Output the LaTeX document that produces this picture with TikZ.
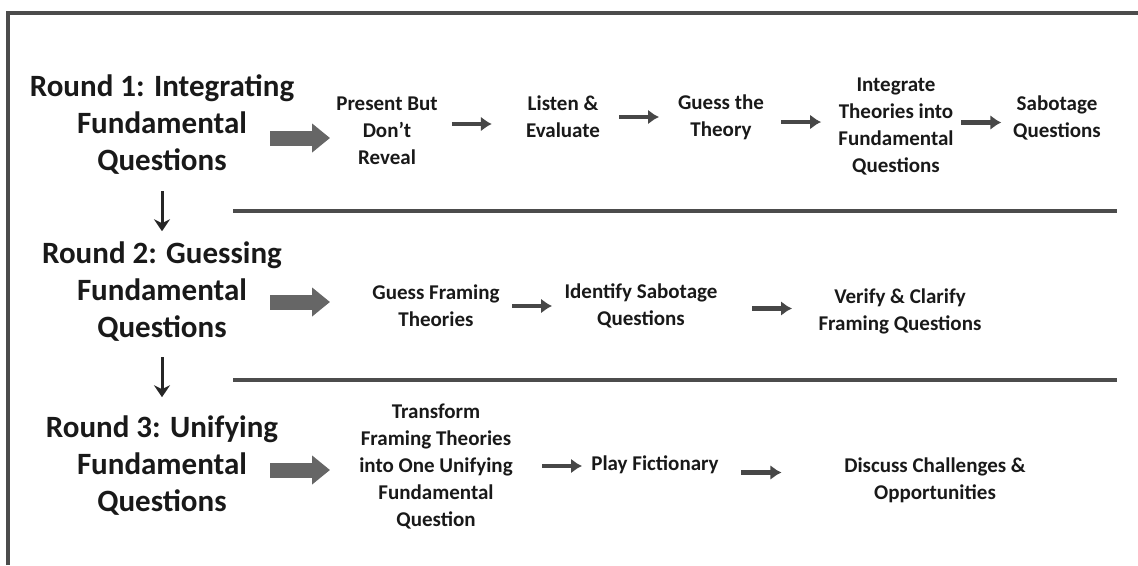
\documentclass[tikz,border=0pt]{standalone}
\usepackage{fontspec}
\setmainfont{Carlito}
\usetikzlibrary{arrows.meta,calc}

\begin{document}
\begin{tikzpicture}[x=1pt,y=-1pt,thick]
    %
    % `round' is used for the three round titles on the left.
    % `task' is used for the small steps of each round.
    % `flow' and `bigflow' are the arrows, `rule' the grey bars.
    \tikzstyle{round} = [align=center,inner sep=0pt,text=black!90,font=\bfseries\fontsize{31}{37}\selectfont]
    \tikzstyle{task} = [align=center,inner sep=2pt,text=black!90,font=\bfseries\fontsize{21}{27}\selectfont]
    \tikzstyle{flow} = [line width=4.5pt,draw=black!72,-{Latex[length=11pt,width=15pt]}]
    \tikzstyle{bigflow} = [line width=15pt,draw=black!60,-{Triangle[length=18pt,width=28pt]}]
    \tikzstyle{downflow} = [line width=3pt,draw=black!85,-{Stealth[length=12pt,width=16pt,inset=4pt]}]
    \tikzstyle{rule} = [line width=4pt,draw=black!70]
    \useasboundingbox (0,0) rectangle (1138,565);
    %
    % Frame
    \draw[rule,line width=3.5pt] (8,565) -- (8,13) -- (1138,13);
    %
    % Round titles
    \node[round] (r1) at (162,125) {Round 1: Integrating\\Fundamental\\Questions};
    \node[round] (r2) at (162,292) {Round 2: Guessing\\Fundamental\\Questions};
    \node[round] (r3) at (162,466) {Round 3: Unifying\\Fundamental\\Questions};
    \draw[downflow] ([yshift=-16]r1.south) -- ++(0,40);
    \draw[downflow] ([yshift=-15]r2.south) -- ++(0,40);
    %
    % Bars between the rounds
    \draw[rule] (233,211) -- (1117,211);
    \draw[rule] (233,380) -- (1117,380);
    %
    % Round 1
    \node[task] (s11) at (387,131) {Present But\\Don’t\\Reveal};
    \node[task] (s12) at (563,117) {Listen \&\\Evaluate};
    \node[task] (s13) at (721,117) {Guess the\\Theory};
    \node[task] (s14) at (896,127) {Integrate\\Theories into\\Fundamental\\Questions};
    \node[task] (s15) at (1057,118) {Sabotage\\Questions};
    \coordinate (go1) at (270,138);
    \draw[bigflow] (go1) -- ++(60,0);
    %
    % Round 2
    \node[task] (s21) at (436,306) {Guess Framing\\Theories};
    \node[task] (s22) at (641,306) {Identify Sabotage\\Questions};
    \node[task] (s23) at (900,311) {Verify \& Clarify\\Framing Questions};
    \coordinate (go2) at (270,302);
    \draw[bigflow] (go2) -- ++(60,0);
    %
    % Round 3
    \node[task] (s31) at (436,467) {Transform\\Framing Theories\\into One Unifying\\Fundamental\\Question};
    \node[task] (s32) at (655,465) {Play Fictionary};
    \node[task] (s33) at (935,480) {Discuss Challenges \&\\Opportunities};
    \coordinate (go3) at (270,470);
    \draw[bigflow] (go3) -- ++(60,0);
    %
    % Small arrows, about half way between two steps
    \foreach \a/\b/\d in {s11/s12/-10,s12/s13/0,s13/s14/0,s14/s15/-2,s21/s22/0,s22/s23/4,s31/s32/10,s32/s33/-20}
        \draw[flow] ($(\a.east)!.5!(\b.west)+(\d-20,0)$) -- +(40,0);
    %
\end{tikzpicture}
\end{document}
